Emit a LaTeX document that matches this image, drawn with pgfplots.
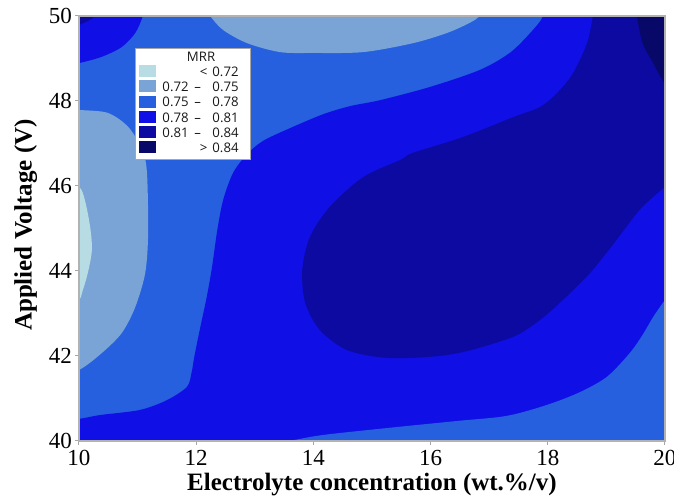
\documentclass[border=0pt]{standalone}
\usepackage{fontspec}
\setmainfont{Liberation Serif}
\newfontfamily\legfont{Open Sans}
\usepackage{pgfplots}
\pgfplotsset{compat=1.18}
\definecolor{c1}{HTML}{B8DCE4}
\definecolor{c2}{HTML}{7AA4D6}
\definecolor{c3}{HTML}{2660DE}
\definecolor{c4}{HTML}{1010E6}
\definecolor{c5}{HTML}{0C0AA0}
\definecolor{c6}{HTML}{080868}
\begin{document}
\begin{tikzpicture}
\begin{axis}[
  scale only axis, width=586pt, height=425pt,
  xmin=10, xmax=20, ymin=40, ymax=50,
  xtick={10,12,...,20}, ytick={40,42,...,50},
  tick align=outside, tick pos=left,
  major tick length=4pt,
  tick style={draw=black!35, line width=1pt},
  axis line style={draw=black!30, line width=1.1pt},
  axis on top,
  axis background/.style={fill=c3},
  /pgf/number format/assume math mode=true,
  ticklabel style={font=\fontsize{23}{23}\selectfont, text=black},
  xticklabel style={inner sep=0pt, yshift=-5pt},
  yticklabel style={inner sep=0pt, xshift=-3pt},
  xlabel={Electrolyte concentration (wt.\%/v)},
  ylabel={Applied Voltage (V)},
  label style={font=\bfseries\fontsize{25}{25}\selectfont},
  xlabel style={at={(axis description cs:0.5,-0.1175)}, anchor=base},
  ylabel style={at={(axis description cs:-0.081,0.508)}, anchor=base},
  legend cell align=left,
  legend style={at={(0.0956,0.925)}, anchor=north west, draw=black!35, fill=white,
    inner sep=4pt, font=\legfont\fontsize{13.2}{15}\selectfont, text=black!90,
    nodes={inner sep=0pt, text height=9.5pt, text depth=3pt},
    row sep=0.7pt,
    /tikz/every odd column/.append style={column sep=8pt}},
]
% c4 main region (0.78-0.81)
\addplot[fill=c4, draw=none, smooth, forget plot] coordinates {
(17.95,50.5)(17.92,50)(17.70,49.60)(17.35,49.13)(16.84,48.73)(15.99,48.33)(15.14,48.02)
(14.63,47.88)(14.17,47.69)(13.60,47.36)(13.14,47.06)(12.87,46.75)(12.63,46.31)(12.46,45.67)
(12.36,44.96)(12.27,44.09)(12.18,43.39)(12.06,42.61)(11.97,42.0)(11.92,41.6)(11.84,41.27)
(11.50,40.96)(11.04,40.73)(10.36,40.61)(10,40.52)(9.5,40.45)(9.5,39.5)(20.5,39.5)(20.5,50.5)};
% c3 bottom-right (0.75-0.78)
\addplot[fill=c3, draw=none, smooth, forget plot] coordinates {
(12.5,39.75)(13.58,40.0)(14.16,40.14)(15.30,40.31)(16.45,40.47)(17.30,40.59)(17.99,40.85)
(18.55,41.15)(19.01,41.51)(19.40,42.07)(19.62,42.5)(19.80,42.92)(20,43.32)(20.2,43.7)
(20.5,43.7)(20.5,39.5)(12.5,39.5)};
% c5 (0.81-0.84)
\addplot[fill=c5, draw=none, smooth, forget plot] coordinates {
(18.80,50.4)(18.77,50)(18.67,49.36)(18.43,48.65)(18.16,48.19)(17.87,47.86)(17.41,47.62)
(16.55,47.15)(15.70,46.78)(15.48,46.61)(14.85,46.21)(14.28,45.51)(13.94,44.80)(13.81,44.02)
(13.86,43.25)(14.11,42.61)(14.57,42.14)(15.2,41.96)(15.9,41.97)(16.55,42.09)(17.41,42.45)
(17.87,42.85)(18.26,43.32)(18.72,43.95)(19.1,44.6)(19.57,45.44)(20,45.98)(20.4,46.4)(20.4,50.4)};
% c6 (>0.84)
\addplot[fill=c6, draw=none, smooth, forget plot] coordinates {
(19.5,50.3)(19.52,50)(19.62,49.36)(19.80,48.89)(20,48.4)(20.3,48.0)(20.3,50.3)};
% c4 top-left
\addplot[fill=c4, draw=none, smooth, forget plot] coordinates {
(11.15,50.4)(11.09,50)(10.96,49.6)(10.73,49.27)(10.39,49.04)(10,48.89)(9.5,48.75)(9.5,50.4)};
% c5 tiny top-left
\addplot[fill=c5, draw=none, smooth, forget plot] coordinates {
(10.33,50.2)(10.27,50)(10.15,49.88)(10,49.79)(9.7,49.65)(9.7,50.2)};
% c2 top
\addplot[fill=c2, draw=none, smooth, forget plot] coordinates {
(12.12,50.3)(12.24,50)(12.46,49.67)(12.87,49.36)(13.43,49.15)(13.99,49.13)(14.85,49.15)
(15.70,49.36)(16.28,49.60)(16.67,49.84)(16.84,50)(17.0,50.3)};
% c2 left
\addplot[fill=c2, draw=none, smooth, forget plot] coordinates {
(9.5,47.85)(10,47.79)(10.49,47.72)(10.84,47.39)(11.08,46.85)(11.16,46.31)(11.18,44.89)
(11.13,43.95)(10.96,43.15)(10.73,42.54)(10.39,42.07)(10,41.67)(9.5,41.45)};
% c1 left
\addplot[fill=c1, draw=none, smooth, forget plot] coordinates {
(9.7,46.1)(10,45.98)(10.10,45.67)(10.19,45.04)(10.22,44.49)(10.15,43.95)(10.05,43.48)
(10,43.32)(9.7,43.1)};

\addlegendimage{empty legend}
\addlegendentry{\makebox[83pt][l]{\makebox[75pt][c]{MRR}}}
\addlegendimage{legend image code/.code={\fill[c1] (0pt,-3pt) rectangle (16pt,8pt);}}
\addlegendentry{\makebox[83pt][l]{\makebox[75pt][r]{<\hspace{5pt}0.72}}}
\addlegendimage{legend image code/.code={\fill[c2] (0pt,-3pt) rectangle (16pt,8pt);}}
\addlegendentry{\makebox[83pt][l]{\makebox[25pt][r]{0.72}\makebox[18pt]{–}\makebox[32pt][r]{0.75}}}
\addlegendimage{legend image code/.code={\fill[c3] (0pt,-3pt) rectangle (16pt,8pt);}}
\addlegendentry{\makebox[83pt][l]{\makebox[25pt][r]{0.75}\makebox[18pt]{–}\makebox[32pt][r]{0.78}}}
\addlegendimage{legend image code/.code={\fill[c4] (0pt,-3pt) rectangle (16pt,8pt);}}
\addlegendentry{\makebox[83pt][l]{\makebox[25pt][r]{0.78}\makebox[18pt]{–}\makebox[32pt][r]{0.81}}}
\addlegendimage{legend image code/.code={\fill[c5] (0pt,-3pt) rectangle (16pt,8pt);}}
\addlegendentry{\makebox[83pt][l]{\makebox[25pt][r]{0.81}\makebox[18pt]{–}\makebox[32pt][r]{0.84}}}
\addlegendimage{legend image code/.code={\fill[c6] (0pt,-3pt) rectangle (16pt,8pt);}}
\addlegendentry{\makebox[83pt][l]{\makebox[75pt][r]{>\hspace{5pt}0.84}}}

\coordinate (bl) at (axis cs:8.652,38.612);
\coordinate (tr) at (axis cs:20.154,50.376);
\end{axis}
\pgfresetboundingbox
\path[use as bounding box] (bl) rectangle (tr);
\end{tikzpicture}
\end{document}
